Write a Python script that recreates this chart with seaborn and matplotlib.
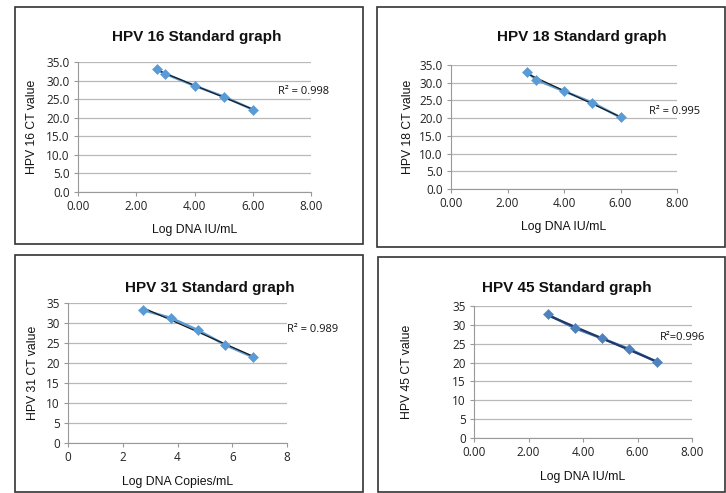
import numpy as np
import pandas as pd
import seaborn as sns
import matplotlib.pyplot as plt
from matplotlib.patches import Rectangle

# data
titles = ["HPV 16 Standard graph", "HPV 18 Standard graph", "HPV 31 Standard graph", "HPV 45 Standard graph"]
ylabels = ["HPV 16 CT value", "HPV 18 CT value", "HPV 31 CT value", "HPV 45 CT value"]
xlabels = ["Log DNA IU/mL", "Log DNA IU/mL", "Log DNA Copies/mL", "Log DNA IU/mL"]
r2_labels = ["R² = 0.998", "R² = 0.995", "R² = 0.989", "R²=0.996"]

hpv16_x = [2.7, 3.0, 4.0, 5.0, 6.0]
hpv16_ct = [33.0, 31.8, 28.6, 25.7, 22.2]
hpv18_x = [2.7, 3.0, 4.0, 5.0, 6.0]
hpv18_ct = [33.0, 30.9, 27.6, 24.4, 20.2]
hpv31_x = [2.75, 3.75, 4.75, 5.75, 6.75]
hpv31_ct = [33.2, 31.3, 28.2, 24.5, 21.5]
hpv45_x = [2.7, 3.7, 4.7, 5.7, 6.7]
hpv45_ct = [32.8, 29.1, 26.4, 23.6, 20.2]

xs = [hpv16_x, hpv18_x, hpv31_x, hpv45_x]
cts = [hpv16_ct, hpv18_ct, hpv31_ct, hpv45_ct]

sns.set_style("white")
plt.rcParams['font.family'] = ['Liberation Sans', 'DejaVu Sans']

W, H = 726, 493
fig = plt.figure(figsize=(W / 100, H / 100), dpi=100)

def fx(px):
    return px / W

def fy(py):
    return 1 - py / H

# panel frames (pixels: left, top, right, bottom)
boxes = [(15, 7, 363, 244), (377, 7, 725, 247), (15, 255, 363, 492), (378, 257, 725, 492)]
# plot area (pixels: left, top, right, bottom)
areas = [(78, 62, 311, 192), (451, 65, 677, 189), (68, 303, 287, 443), (474, 306, 692, 438)]
title_pos = [(197, 37), (582, 37), (210, 288), (567, 288)]
ylab_x = [32, 408, 33, 407]
xlab_y = [230, 227, 482, 477]
r2_pos = [(278, 92), (649, 112), (287, 330), (660, 338)]

for b in boxes:
    fig.patches.append(Rectangle((fx(b[0]), fy(b[3])), fx(b[2] - b[0]), (b[3] - b[1]) / H,
                                 transform=fig.transFigure, fill=False, edgecolor="#333333", lw=1.2))

for i in range(4):
    l, t, r, b = areas[i]
    ax = fig.add_axes([fx(l), fy(b), fx(r - l), (b - t) / H])
    df = pd.DataFrame({"x": xs[i], "ct": cts[i]})

    if i == 3:
        pt_col, line_col, fit_col, fit_lw = "#4F81BD", "#4F81BD", "#1F3A68", 1.6
    else:
        pt_col, line_col, fit_col, fit_lw = "#5B9BD5", "#5B9BD5", "#1a1a1a", 0.9

    sns.lineplot(data=df, x="x", y="ct", ax=ax, color=line_col, lw=1.8, zorder=3)
    sns.regplot(data=df, x="x", y="ct", ax=ax, ci=None, scatter=False,
                line_kws=dict(color=fit_col, lw=fit_lw, zorder=4))
    sns.scatterplot(data=df, x="x", y="ct", ax=ax, marker="D", s=26, color=pt_col,
                    edgecolor=pt_col, zorder=5)

    ax.set_xlim(0, 8)
    ax.set_ylim(0, 35)
    ax.set_xticks([0, 2, 4, 6, 8])
    ax.set_yticks(np.arange(0, 36, 5))
    if i == 2:
        ax.set_xticklabels(["0", "2", "4", "6", "8"])
    else:
        ax.set_xticklabels(["0.00", "2.00", "4.00", "6.00", "8.00"])
    if i < 2:
        ax.set_yticklabels([f"{v:.1f}" for v in np.arange(0, 36, 5)])
    else:
        ax.set_yticklabels([str(v) for v in range(0, 36, 5)])
    ax.yaxis.grid(True, color="#b8b8b8", lw=0.9)
    ax.set_axisbelow(True)
    for s in ["top", "right"]:
        ax.spines[s].set_visible(False)
    ax.spines["left"].set_color("#999999")
    ax.spines["bottom"].set_color("#999999")
    ax.tick_params(axis="both", which="both", length=3, width=0.8, color="#999999",
                   labelsize=8.5, labelcolor="#222222", direction="out", pad=3)
    ax.tick_params(left=True, bottom=True)
    for lab in ax.get_xticklabels() + ax.get_yticklabels():
        lab.set_family(["Open Sans", "DejaVu Sans"])
    ax.set_xlabel("")
    ax.set_ylabel("")

    fig.text(fx(title_pos[i][0]), fy(title_pos[i][1]), titles[i], ha="center", va="center",
             fontsize=11, fontweight="bold", color="#111111")
    fig.text(fx(ylab_x[i]), fy((t + b) / 2), ylabels[i], ha="center", va="center",
             rotation=90, fontsize=8.8, color="#111111")
    fig.text(fx((l + r) / 2), fy(xlab_y[i]), xlabels[i], ha="center", va="center",
             fontsize=8.8, color="#111111")
    fig.text(fx(r2_pos[i][0]), fy(r2_pos[i][1]), r2_labels[i], ha="left", va="center",
             fontsize=8, color="#111111", family=["Open Sans", "DejaVu Sans"])

fig.savefig("out.png", dpi=100, facecolor="white")
